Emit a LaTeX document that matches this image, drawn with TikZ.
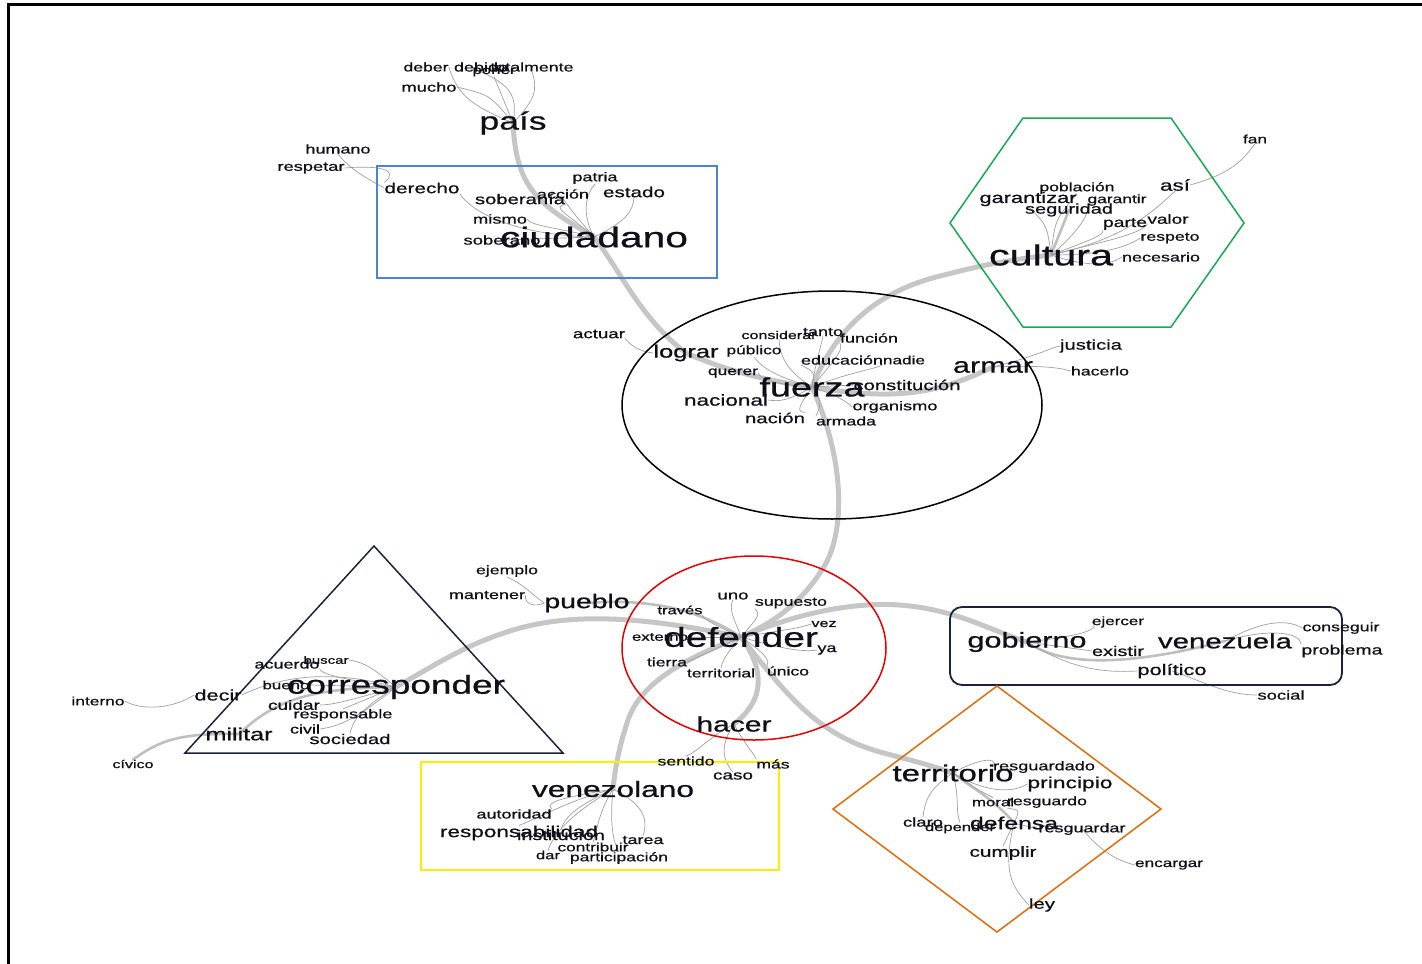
\documentclass[tikz,border=0pt]{standalone}
\usepackage{fontspec}
\setmainfont{Liberation Sans}[FakeBold=0.7]
\usepackage{graphicx}
\usetikzlibrary{backgrounds}
\definecolor{txtc}{RGB}{15,15,25}
\definecolor{blueb}{RGB}{80,130,210}
\definecolor{greenh}{RGB}{20,170,80}
\definecolor{redc}{RGB}{230,0,0}
\definecolor{navyc}{RGB}{25,35,60}
\definecolor{orngc}{RGB}{228,108,10}
\definecolor{yellc}{RGB}{248,240,0}
\newcommand{\lab}[2]{\resizebox{#1pt}{!}{\scalebox{1}[0.7]{#2}}}
\tikzset{
  w/.style={inner sep=0pt, text=txtc},
  thk/.style={draw=gray!45, line width=5pt, line cap=round},
  med/.style={draw=gray!50, line width=2.6pt, line cap=round},
  thn/.style={draw=gray!75, line width=0.7pt},
  shp/.style={line width=1.5pt}
}
\begin{document}
\begin{tikzpicture}[x=1pt,y=-1pt]
\useasboundingbox (0,0) rectangle (1422,964);
% frame
\draw[line width=3pt,black] (7,4) -- (1422,4);
\draw[line width=3pt,black] (8,4) -- (8,964);
% shapes
\draw[shp,blueb] (377,166) rectangle (717,278);
\draw[shp,greenh] (950,223) -- (1023,118) -- (1171,118) -- (1244,223) -- (1171,327) -- (1023,327) -- cycle;
\draw[shp,black] (832,405) ellipse [x radius=210pt, y radius=114pt];
\draw[shp,redc] (754,648) ellipse [x radius=132pt, y radius=92pt];
\draw[shp,navyc] (374,546) -- (563,753) -- (185,753) -- cycle;
\draw[shp,navyc,line width=1.8pt,rounded corners=12pt] (950,607) rectangle (1342,685);
\draw[shp,orngc] (997,686) -- (1161,809) -- (997,932) -- (833,809) -- cycle;
\draw[shp,yellc] (421,762) rectangle (779,870);

% ---- top cluster
\node[w] (deber) at (426,67) {\lab{45}{deber}};
\node[w] (debido) at (481,67) {\lab{54}{debido}};
\node[w] (poner) at (494,72) {\lab{43}{poner}};
\node[w] (totalmente) at (532,67) {\lab{83}{totalmente}};
\node[w] (mucho) at (429,87) {\lab{55}{mucho}};
\node[w] (pais) at (513,123) {\lab{67}{país}};
\node[w] (humano) at (338,149) {\lab{65}{humano}};
\node[w] (respetar) at (311,168) {\lab{67}{respetar}};
\node[w] (derecho) at (422,188) {\lab{75}{derecho}};
\node[w] (patria) at (595,178) {\lab{45}{patria}};
\node[w] (soberania) at (520,199) {\lab{90}{soberanía}};
\node[w] (accion) at (563,194) {\lab{52}{acción}};
\node[w] (estado) at (634,192) {\lab{62}{estado}};
\node[w] (mismo) at (500,219) {\lab{54}{mismo}};
\node[w] (soberano) at (502,240) {\lab{77}{soberano}};
\node[w] (ciudadano) at (594,237) {\lab{188}{ciudadano}};
% ---- cultura
\node[w] (fan) at (1255,139) {\lab{24}{fan}};
\node[w] (poblacion) at (1077,188) {\lab{75}{población}};
\node[w] (asi) at (1175,185) {\lab{30}{así}};
\node[w] (garantizar) at (1028,199) {\lab{97}{garantizar}};
\node[w] (garantir) at (1117,200) {\lab{59}{garantir}};
\node[w] (seguridad) at (1069,210) {\lab{88}{seguridad}};
\node[w] (parte) at (1125,224) {\lab{44}{parte}};
\node[w] (valor) at (1168,219) {\lab{41}{valor}};
\node[w] (respeto) at (1170,238) {\lab{59}{respeto}};
\node[w] (cultura) at (1051,255) {\lab{124}{cultura}};
\node[w] (necesario) at (1161,257) {\lab{78}{necesario}};
% ---- fuerza
\node[w] (actuar) at (599,334) {\lab{52}{actuar}};
\node[w] (considerar) at (779,335) {\lab{75}{considerar}};
\node[w] (tanto) at (823,332) {\lab{40}{tanto}};
\node[w] (funcion) at (869,338) {\lab{58}{función}};
\node[w] (lograr) at (686,353) {\lab{65}{lograr}};
\node[w] (publico) at (754,351) {\lab{55}{público}};
\node[w] (educacion) at (842,360) {\lab{82}{educación}};
\node[w] (nadie) at (904,360) {\lab{42}{nadie}};
\node[w] (querer) at (733,373) {\lab{50}{querer}};
\node[w] (constitucion) at (907,385) {\lab{107}{constitución}};
\node[w] (fuerza) at (812,387) {\lab{105}{fuerza}};
\node[w] (nacional) at (726,400) {\lab{84}{nacional}};
\node[w] (organismo) at (895,407) {\lab{85}{organismo}};
\node[w] (nacion) at (775,418) {\lab{60}{nación}};
\node[w] (armada) at (846,421) {\lab{60}{armada}};
\node[w] (armar) at (993,367) {\lab{80}{armar}};
\node[w] (justicia) at (1091,346) {\lab{62}{justicia}};
\node[w] (hacerlo) at (1100,371) {\lab{58}{hacerlo}};
% ---- defender
\node[w] (ejemplo) at (507,571) {\lab{62}{ejemplo}};
\node[w] (mantener) at (487,595) {\lab{76}{mantener}};
\node[w] (pueblo) at (587,603) {\lab{85}{pueblo}};
\node[w] (uno) at (733,596) {\lab{31}{uno}};
\node[w] (supuesto) at (791,603) {\lab{72}{supuesto}};
\node[w] (traves) at (680,610) {\lab{45}{través}};
\node[w] (vez) at (824,624) {\lab{25}{vez}};
\node[w] (externo) at (660,637) {\lab{56}{externo}};
\node[w] (defender) at (741,637) {\lab{154}{defender}};
\node[w] (ya) at (827,650) {\lab{19}{ya}};
\node[w] (tierra) at (667,662) {\lab{40}{tierra}};
\node[w] (territorial) at (721,673) {\lab{68}{territorial}};
\node[w] (unico) at (788,671) {\lab{42}{único}};
\node[w] (hacer) at (734,724) {\lab{75}{hacer}};
\node[w] (sentido) at (686,761) {\lab{57}{sentido}};
\node[w] (caso) at (733,776) {\lab{40}{caso}};
\node[w] (mas) at (773,764) {\lab{33}{más}};
% ---- gobierno
\node[w] (ejercer) at (1118,622) {\lab{52}{ejercer}};
\node[w] (gobierno) at (1027,642) {\lab{119}{gobierno}};
\node[w] (existir) at (1118,651) {\lab{52}{existir}};
\node[w] (venezuela) at (1225,641) {\lab{134}{venezuela}};
\node[w] (conseguir) at (1341,628) {\lab{77}{conseguir}};
\node[w] (problema) at (1342,651) {\lab{81}{problema}};
\node[w] (politico) at (1172,671) {\lab{69}{político}};
\node[w] (social) at (1281,695) {\lab{47}{social}};
% ---- territorio
\node[w] (territorio) at (953,773) {\lab{121}{territorio}};
\node[w] (resguardado) at (1044,767) {\lab{102}{resguardado}};
\node[w] (principio) at (1070,784) {\lab{85}{principio}};
\node[w] (moral) at (993,802) {\lab{42}{moral}};
\node[w] (resguardo) at (1047,802) {\lab{80}{resguardo}};
\node[w] (claro) at (923,822) {\lab{40}{claro}};
\node[w] (depender) at (960,828) {\lab{70}{depender}};
\node[w] (defensa) at (1014,823) {\lab{88}{defensa}};
\node[w] (resguardar) at (1082,829) {\lab{87}{resguardar}};
\node[w] (cumplir) at (1003,853) {\lab{67}{cumplir}};
\node[w] (encargar) at (1169,865) {\lab{68}{encargar}};
\node[w] (ley) at (1042,905) {\lab{26}{ley}};
% ---- triangle
\node[w] (buscar) at (326,660) {\lab{45}{buscar}};
\node[w] (acuerdo) at (287,664) {\lab{65}{acuerdo}};
\node[w] (bueno) at (286,685) {\lab{47}{bueno}};
\node[w] (corresponder) at (396,687) {\lab{218}{corresponder}};
\node[w] (decir) at (218,695) {\lab{47}{decir}};
\node[w] (interno) at (98,701) {\lab{53}{interno}};
\node[w] (cuidar) at (294,705) {\lab{52}{cuidar}};
\node[w] (responsable) at (343,715) {\lab{99}{responsable}};
\node[w] (civil) at (305,729) {\lab{30}{civil}};
\node[w] (militar) at (239,734) {\lab{67}{militar}};
\node[w] (sociedad) at (350,739) {\lab{81}{sociedad}};
\node[w] (civico) at (133,764) {\lab{41}{cívico}};
% ---- venezolano
\node[w] (venezolano) at (613,789) {\lab{162}{venezolano}};
\node[w] (autoridad) at (514,814) {\lab{75}{autoridad}};
\node[w] (responsabilidad) at (519,833) {\lab{158}{responsabilidad}};
\node[w] (institucion) at (561,835) {\lab{88}{institución}};
\node[w] (tarea) at (643,840) {\lab{41}{tarea}};
\node[w] (contribuir) at (593,847) {\lab{71}{contribuir}};
\node[w] (dar) at (548,855) {\lab{24}{dar}};
\node[w] (participacion) at (619,858) {\lab{98}{participación}};

\begin{scope}[on background layer]
% thick trunk
\draw[thk] (pais.center) .. controls (516,190) and (540,205) .. (ciudadano.center);
\draw[thk] (ciudadano.center) .. controls (620,270) and (640,318) .. (lograr.center);
\draw[thk] (lograr.center) .. controls (720,368) and (760,380) .. (fuerza.center);
\draw[thk] (fuerza.center) .. controls (835,330) and (875,292) .. (940,276) .. controls (965,270) and (990,262) .. (cultura.center);
\draw[thk] (fuerza.center) .. controls (900,402) and (940,392) .. (armar.center);
\draw[thk] (fuerza.center) .. controls (845,460) and (845,530) .. (825,565) .. controls (805,598) and (780,620) .. (defender.center);
\draw[thk] (defender.center) .. controls (800,612) and (860,600) .. (910,606) .. controls (960,612) and (990,630) .. (gobierno.center);
\draw[med] (gobierno.center) .. controls (1060,665) and (1120,668) .. (venezuela.center);
\draw[thk] (defender.center) .. controls (650,618) and (580,612) .. (520,628) .. controls (470,642) and (440,662) .. (corresponder.center);
\draw[thk] (defender.center) .. controls (680,660) and (640,685) .. (628,720) .. controls (618,750) and (615,770) .. (venezolano.center);
\draw[thk] (defender.center) .. controls (765,670) and (765,700) .. (hacer.center);
\draw[thk] (defender.center) .. controls (790,700) and (820,735) .. (880,752) .. controls (910,760) and (930,765) .. (territorio.center);
\draw[med] (territorio.center) .. controls (975,790) and (995,800) .. (defensa.center);
\draw[med] (corresponder.center) .. controls (310,688) and (275,700) .. (militar.center);
\draw[med] (militar.center) .. controls (180,733) and (160,740) .. (civico.north);
\draw[med] (cultura.center) -- (seguridad.center);
\draw[med] (pueblo.center) .. controls (650,598) and (700,610) .. (defender.center);
% pais
\draw[thn] (pais.center) .. controls (490,95) .. (mucho.east);
\draw[thn] (pais.center) .. controls (470,105) and (458,95) .. (deber.east);
\draw[thn] (pais.center) .. controls (518,95) and (510,85) .. (debido.south);
\draw[thn] (pais.center) -- (poner.south);
\draw[thn] (pais.center) .. controls (535,100) and (538,90) .. (totalmente.south);
% ciudadano
\draw[thn] (ciudadano.center) .. controls (625,222) and (633,212) .. (estado.south);
\draw[thn] (ciudadano.center) .. controls (582,215) and (585,195) .. (patria.south);
\draw[thn] (ciudadano.center) .. controls (575,215) .. (accion.south);
\draw[thn] (ciudadano.center) .. controls (570,215) and (550,207) .. (soberania.south east);
\draw[thn] (ciudadano.center) .. controls (560,228) and (530,226) .. (mismo.east);
\draw[thn] (ciudadano.center) -- (soberano.center);
\draw[thn] (ciudadano.center) .. controls (510,235) and (470,210) .. (derecho.south east);
\draw[thn] (derecho.west) .. controls (370,180) and (350,170) .. (humano.south);
\draw[thn] (derecho.north west) .. controls (400,170) and (380,165) .. (respetar.east);
% cultura
\draw[thn] (cultura.center) .. controls (1047,225) .. (garantizar.south);
\draw[thn] (cultura.center) .. controls (1055,220) .. (poblacion.south);
\draw[thn] (cultura.center) .. controls (1075,235) and (1090,215) .. (garantir.south west);
\draw[thn] (cultura.center) .. controls (1090,240) and (1105,235) .. (parte.south west);
\draw[thn] (cultura.center) .. controls (1100,242) and (1140,235) .. (valor.south west);
\draw[thn] (cultura.center) .. controls (1120,240) and (1150,215) .. (asi.south);
\draw[thn] (cultura.center) .. controls (1100,255) and (1125,248) .. (respeto.west);
\draw[thn] (cultura.center) .. controls (1090,268) and (1110,265) .. (necesario.west);
\draw[thn] (asi.east) .. controls (1225,175) and (1240,165) .. (fan.south);
% fuerza
\draw[thn] (fuerza.center) .. controls (785,370) and (780,355) .. (considerar.south);
\draw[thn] (fuerza.center) .. controls (815,365) and (820,350) .. (tanto.south);
\draw[thn] (fuerza.center) .. controls (830,365) and (845,350) .. (funcion.south west);
\draw[thn] (fuerza.center) .. controls (770,375) and (760,365) .. (publico.south);
\draw[thn] (fuerza.center) .. controls (815,372) .. (educacion.south west);
\draw[thn] (fuerza.center) .. controls (850,372) and (880,368) .. (nadie.south west);
\draw[thn] (fuerza.center) .. controls (780,385) and (760,380) .. (querer.east);
\draw[thn] (fuerza.center) .. controls (790,400) and (780,402) .. (nacional.east);
\draw[thn] (fuerza.center) .. controls (800,405) and (795,412) .. (nacion.north east);
\draw[thn] (fuerza.center) .. controls (822,402) .. (armada.north west);
\draw[thn] (fuerza.center) .. controls (835,395) and (845,400) .. (organismo.west);
\draw[thn] (fuerza.center) -- (constitucion.west);
\draw[thn] (lograr.west) .. controls (640,352) and (630,345) .. (actuar.south east);
\draw[thn] (armar.center) .. controls (1040,355) and (1050,348) .. (justicia.west);
\draw[thn] (armar.center) .. controls (1045,365) and (1060,368) .. (hacerlo.west);
% defender
\draw[thn] (defender.center) .. controls (735,620) and (728,610) .. (uno.south);
\draw[thn] (defender.center) .. controls (760,615) .. (supuesto.south west);
\draw[thn] (defender.center) .. controls (715,625) and (700,618) .. (traves.south east);
\draw[thn] (defender.center) .. controls (785,630) and (800,628) .. (vez.west);
\draw[thn] (defender.center) -- (externo.east);
\draw[thn] (defender.center) .. controls (785,650) and (805,652) .. (ya.west);
\draw[thn] (defender.center) .. controls (710,652) and (695,658) .. (tierra.east);
\draw[thn] (defender.center) .. controls (725,655) and (722,662) .. (territorial.north);
\draw[thn] (defender.center) .. controls (768,655) and (770,662) .. (unico.north west);
\draw[thn] (pueblo.west) .. controls (532,595) and (525,585) .. (ejemplo.south);
\draw[thn] (pueblo.west) .. controls (535,607) and (525,605) .. (mantener.east);
\draw[thn] (hacer.center) .. controls (705,740) and (700,750) .. (sentido.north);
\draw[thn] (hacer.center) .. controls (720,745) and (722,760) .. (caso.north);
\draw[thn] (hacer.center) .. controls (745,745) and (755,755) .. (mas.north west);
% gobierno
\draw[thn] (gobierno.center) .. controls (1090,635) and (1100,628) .. (ejercer.west);
\draw[thn] (gobierno.center) -- (existir.west);
\draw[thn] (gobierno.center) .. controls (1070,668) and (1100,673) .. (politico.west);
\draw[thn] (politico.center) .. controls (1200,680) and (1225,695) .. (social.west);
\draw[thn] (venezuela.center) .. controls (1260,622) and (1285,618) .. (conseguir.west);
\draw[thn] (venezuela.center) .. controls (1270,628) and (1300,632) .. (problema.north west);
% territorio
\draw[thn] (territorio.center) .. controls (975,760) and (1000,755) .. (resguardado.west);
\draw[thn] (territorio.center) .. controls (980,790) and (1010,795) .. (principio.west);
\draw[thn] (territorio.center) .. controls (935,785) and (925,795) .. (claro.north);
\draw[thn] (territorio.center) .. controls (960,800) and (955,810) .. (depender.north);
\draw[thn] (territorio.center) .. controls (978,790) .. (moral.north);
\draw[thn] (defensa.center) .. controls (1020,810) .. (resguardo.south west);
\draw[thn] (defensa.center) -- (resguardar.west);
\draw[thn] (defensa.center) -- (cumplir.north);
\draw[thn] (defensa.center) .. controls (1003,870) and (1010,885) .. (ley.west);
\draw[thn] (resguardar.center) .. controls (1100,850) and (1115,860) .. (encargar.west);
% triangle
\draw[thn] (corresponder.center) .. controls (375,670) and (365,662) .. (buscar.east);
\draw[thn] (corresponder.center) .. controls (330,678) and (320,672) .. (acuerdo.south east);
\draw[thn] (corresponder.center) -- (bueno.east);
\draw[thn] (corresponder.center) .. controls (340,672) and (290,672) .. (decir.east);
\draw[thn] (decir.west) .. controls (170,710) and (140,710) .. (interno.east);
\draw[thn] (corresponder.center) .. controls (345,702) and (330,705) .. (cuidar.east);
\draw[thn] (corresponder.center) -- (responsable.north);
\draw[thn] (corresponder.center) .. controls (355,720) and (340,726) .. (civil.east);
\draw[thn] (corresponder.center) .. controls (355,712) and (352,725) .. (sociedad.north);
% venezolano
\draw[thn] (venezolano.center) .. controls (560,798) and (545,802) .. (autoridad.north east);
\draw[thn] (venezolano.center) .. controls (570,800) and (545,815) .. (responsabilidad.north);
\draw[thn] (venezolano.center) .. controls (580,805) and (565,815) .. (institucion.north);
\draw[thn] (venezolano.center) .. controls (575,812) and (555,830) .. (dar.north);
\draw[thn] (venezolano.center) .. controls (600,810) and (598,825) .. (contribuir.north);
\draw[thn] (venezolano.center) .. controls (645,805) and (648,820) .. (tarea.north);
\draw[thn] (venezolano.center) .. controls (610,820) and (612,840) .. (participacion.north);
\end{scope}
\end{tikzpicture}
\end{document}
